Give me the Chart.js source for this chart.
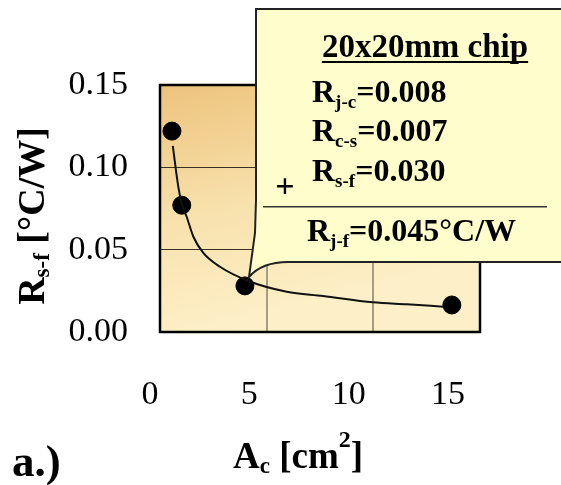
<!DOCTYPE html>
<html>
<head>
<meta charset="utf-8">
<script src="https://cdn.jsdelivr.net/npm/chart.js"></script>
<style>
  body { margin: 0; background: #fff; }
</style>
</head>
<body>
<canvas id="rsfChart" width="561" height="485"></canvas>
<script>
// measured points: contact area [cm2] vs sink-to-fluid resistance [C/W]
const areaCm2 = [0.56, 1.02, 3.98, 13.68];
const rsfValues = [0.122, 0.077, 0.028, 0.0164];

// fitted trend line
const fitArea = [0.60, 0.86, 1.05, 1.25, 1.56, 2.03, 2.81, 4.14, 5.94, 7.64, 9.98, 11.57, 13.27];
const fitRsf = [0.113, 0.088, 0.0765, 0.070, 0.058, 0.048, 0.0396, 0.031, 0.0245, 0.0219, 0.018, 0.0168, 0.0154];

// tick labels
const xTickLabels = [0, 5, 10, 15];
const yTickLabels = [0, 0.05, 0.10, 0.15];

// callout box text
const chipTitle = '20x20mm chip';
const budgetRows = [
    ['R', 'j-c', '=0.008'],
    ['R', 'c-s', '=0.007'],
    ['R', 's-f', '=0.030']
];
const budgetTotal = ['R', 'j-f', '=0.045°C/W'];

const FONT = '"Liberation Serif", "Times New Roman", serif';

// draws text made of pieces with different size / vertical shift (sub & superscripts)
const drawRich = (ctx, parts, x, y, align) => {
    let total = 0;
    parts.forEach(p => {
        ctx.font = `bold ${p.size}px ${FONT}`;
        p.w = ctx.measureText(p.t).width;
        total += p.w;
    });
    let cx = align === 'center' ? x - total / 2 : x;
    ctx.textAlign = 'left';
    ctx.textBaseline = 'alphabetic';
    parts.forEach(p => {
        ctx.font = `bold ${p.size}px ${FONT}`;
        ctx.fillText(p.t, cx, y + (p.dy || 0));
        cx += p.w;
    });
    return total;
};

const resistance = (ctx, row, x, y) => drawRich(ctx, [
    { t: row[0], size: 32 },
    { t: row[1], size: 19, dy: 6 },
    { t: row[2], size: 32 }
], x, y, 'left');

const plotDecor = {
    id: 'plotDecor',
    beforeDraw(chart) {
        const { ctx, chartArea: a } = chart;
        const g = ctx.createLinearGradient(a.left, a.top, a.left + 60, a.bottom);
        g.addColorStop(0, '#EDC37C');
        g.addColorStop(0.55, '#F8E2AE');
        g.addColorStop(1, '#FDF0C8');
        ctx.save();
        ctx.fillStyle = g;
        ctx.fillRect(a.left, a.top, a.right - a.left, a.bottom - a.top);
        ctx.restore();
    },
    beforeDatasetsDraw(chart) {
        const { ctx, chartArea: a } = chart;
        ctx.save();
        ctx.strokeStyle = '#000';
        ctx.lineWidth = 2.5;
        ctx.strokeRect(a.left, a.top, a.right - a.left, a.bottom - a.top);
        ctx.restore();
    },
    afterDraw(chart) {
        const ctx = chart.ctx;
        ctx.save();
        ctx.fillStyle = '#000';

        // y axis title, rotated
        ctx.save();
        ctx.translate(44, 216);
        ctx.rotate(-Math.PI / 2);
        drawRich(ctx, [
            { t: 'R', size: 38 },
            { t: 's-f', size: 23, dy: 5 },
            { t: ' [°C/W]', size: 38 }
        ], 0, 0, 'center');
        ctx.restore();

        // x axis title
        drawRich(ctx, [
            { t: 'A', size: 37 },
            { t: 'c', size: 23, dy: 5 },
            { t: ' [cm', size: 37 },
            { t: '2', size: 24, dy: -21 },
            { t: ']', size: 37 }
        ], 298, 468, 'center');

        // panel label
        ctx.font = `bold 45px ${FONT}`;
        ctx.textAlign = 'left';
        ctx.fillText('a.)', 12, 476);

        // callout box pointing at the 4 cm2 point
        ctx.beginPath();
        ctx.moveTo(256, 9);
        ctx.lineTo(566, 9);
        ctx.lineTo(566, 262);
        ctx.lineTo(288, 262);
        ctx.quadraticCurveTo(262, 262, 249, 277);
        ctx.lineTo(255, 233);
        ctx.lineTo(256, 200);
        ctx.closePath();
        ctx.fillStyle = '#FFFDCC';
        ctx.fill();
        ctx.strokeStyle = '#222';
        ctx.lineWidth = 2;
        ctx.stroke();

        ctx.fillStyle = '#000';
        ctx.font = `bold 33px ${FONT}`;
        ctx.textAlign = 'center';
        ctx.textBaseline = 'alphabetic';
        ctx.fillText(chipTitle, 425, 57);
        const tw = ctx.measureText(chipTitle).width;
        ctx.fillRect(425 - tw / 2, 61, tw, 2);

        const baselines = [102, 141, 181];
        budgetRows.forEach((row, i) => resistance(ctx, row, 312, baselines[i]));

        ctx.font = `bold 34px ${FONT}`;
        ctx.textAlign = 'center';
        ctx.fillText('+', 285, 197);

        ctx.fillStyle = '#333';
        ctx.fillRect(263, 206, 284, 1.5);

        ctx.fillStyle = '#000';
        resistance(ctx, budgetTotal, 307, 241);
        ctx.restore();
    }
};

new Chart(document.getElementById('rsfChart').getContext('2d'), {
    type: 'scatter',
    data: {
        datasets: [
            {
                label: 'fit',
                data: fitArea.map((x, i) => ({ x, y: fitRsf[i] })),
                showLine: true,
                pointRadius: 0,
                borderColor: '#111',
                borderWidth: 2,
                cubicInterpolationMode: 'monotone'
            },
            {
                label: 'measured',
                data: areaCm2.map((x, i) => ({ x, y: rsfValues[i] })),
                pointRadius: 9,
                pointHoverRadius: 9,
                backgroundColor: '#000',
                borderColor: '#000'
            }
        ]
    },
    options: {
        responsive: false,
        animation: false,
        layout: { padding: { top: 85, right: 81, left: 0, bottom: 0 } },
        plugins: {
            legend: { display: false },
            tooltip: { enabled: false }
        },
        scales: {
            x: {
                type: 'linear',
                position: 'bottom',
                min: 0,
                max: 15,
                ticks: { stepSize: 5, display: false },
                grid: {
                    drawTicks: false,
                    lineWidth: 2,
                    color: c => (c.tick && (c.tick.value === 5 || c.tick.value === 10)) ? '#A69E80' : 'rgba(0,0,0,0)'
                },
                border: { display: false },
                afterFit: s => { s.height = 0; }
            },
            // label-only axis: the tick numbers sit a little left of the grid in the original
            x2: {
                type: 'linear',
                position: 'bottom',
                min: 0.503,
                max: 16.608,
                grid: { display: false, drawTicks: false },
                border: { display: false },
                ticks: {
                    autoSkip: false,
                    maxRotation: 0,
                    padding: 43,
                    color: '#000',
                    font: { family: FONT, size: 34 }
                },
                afterBuildTicks: s => { s.ticks = xTickLabels.map(v => ({ value: v })); },
                afterFit: s => { s.height = 153; }
            },
            y: {
                min: 0,
                max: 0.15,
                afterBuildTicks: s => { s.ticks = yTickLabels.map(v => ({ value: v })); },
                ticks: {
                    padding: 32,
                    color: '#000',
                    font: { family: FONT, size: 34 },
                    callback: v => v.toFixed(2)
                },
                grid: {
                    drawTicks: false,
                    lineWidth: 1,
                    color: c => (c.tick && (c.tick.value > 0.01 && c.tick.value < 0.14)) ? '#3B3122' : 'rgba(0,0,0,0)'
                },
                border: { display: false },
                afterFit: s => { s.width = 160; }
            }
        }
    },
    plugins: [plotDecor]
});
</script>
</body>
</html>
